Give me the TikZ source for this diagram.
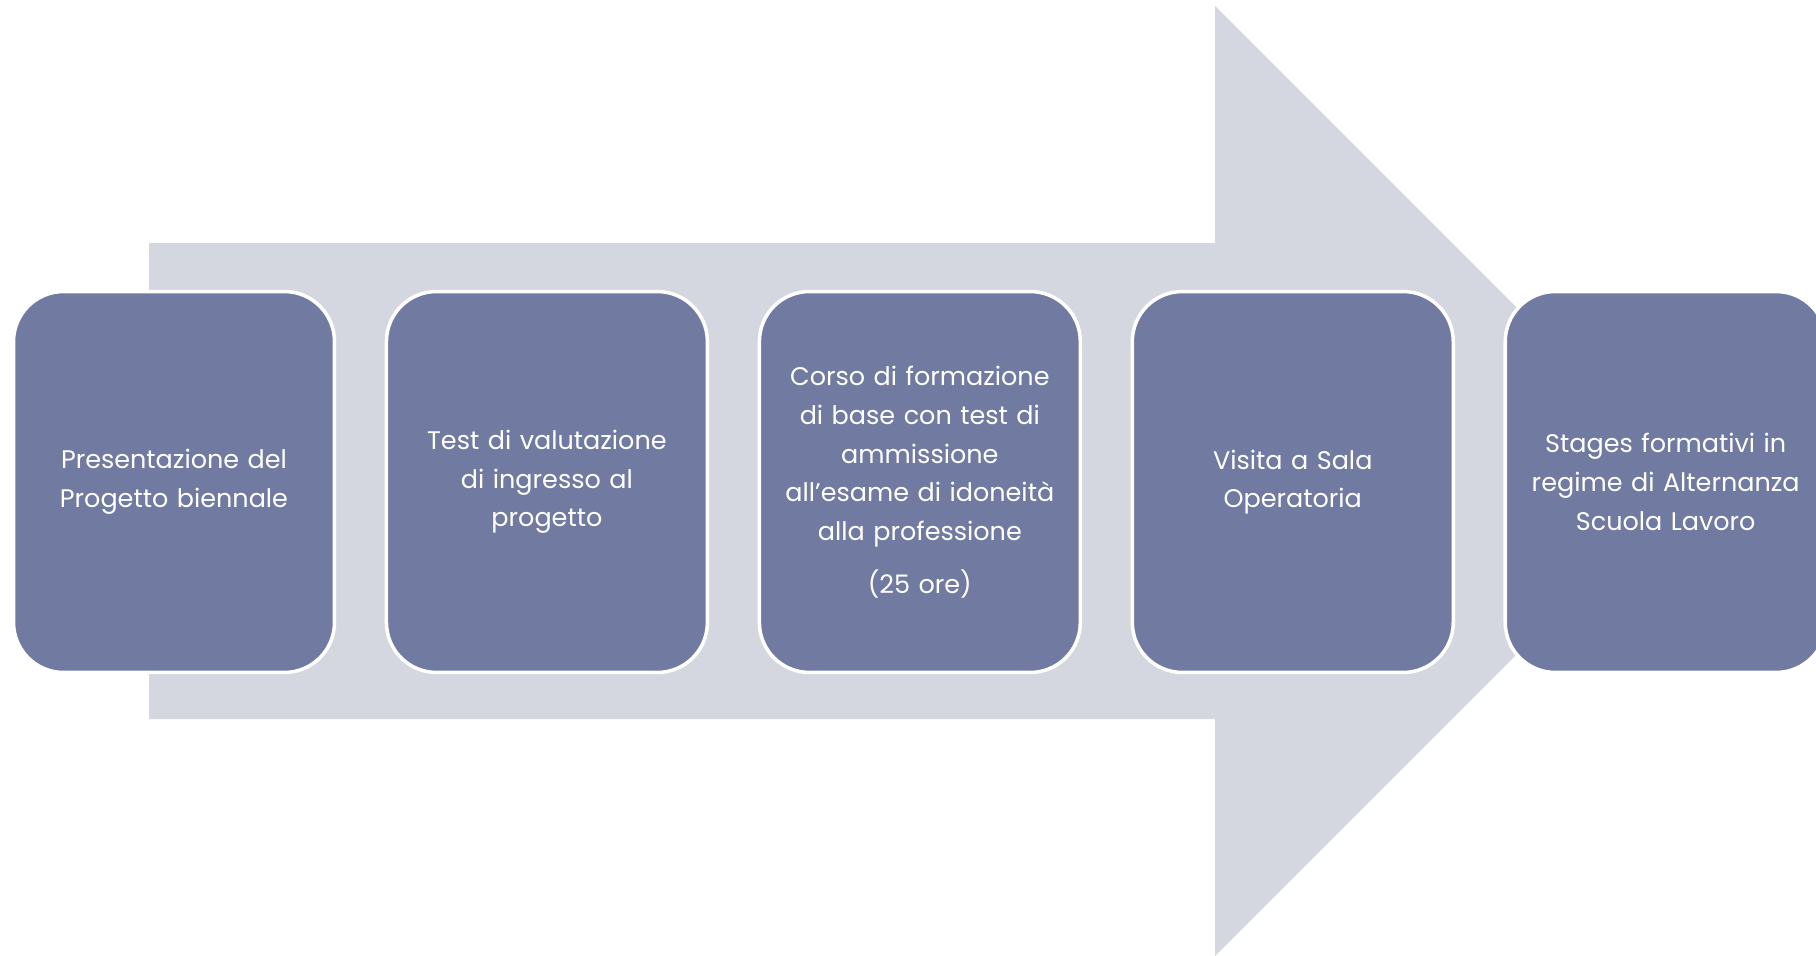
\documentclass[tikz,border=0pt]{standalone}
\usepackage{fontspec}
\setmainfont{Poppins}
\usetikzlibrary{positioning}
\definecolor{stepblue}{RGB}{113,122,160}
\definecolor{arrowgray}{RGB}{212,215,224}

\begin{document}
\begin{tikzpicture}[x=0.02cm,y=-0.02cm,node distance=7.46cm,
  main node/.style={rectangle,rounded corners=1cm,fill=stepblue,draw=white,line width=2pt,
    minimum width=6.42cm,minimum height=7.62cm,text width=5.8cm,align=center,
    text=white,font=\fontsize{14.5}{22}\selectfont}]
  \clip (0,0) rectangle (1816,956);
  % big arrow behind the steps
  \fill[arrowgray] (149,243) -- (1215,243) -- (1215,6) -- (1690,481)
    -- (1215,956) -- (1215,719) -- (149,719) -- cycle;
  \node[main node] (1) at (174,482) {Presentazione del\\Progetto biennale};
  \node[main node] (2) [right of=1] {Test di valutazione\\di ingresso al\\progetto};
  \node[main node] (3) [right of=2] {Corso di formazione\\di base con test di\\ammissione\\all’esame di idoneità\\alla professione\\[8pt](25 ore)};
  \node[main node] (4) [right of=3] {Visita a Sala\\Operatoria};
  \node[main node] (5) [right of=4] {Stages formativi in\\regime di Alternanza\\Scuola Lavoro};
\end{tikzpicture}
\end{document}
